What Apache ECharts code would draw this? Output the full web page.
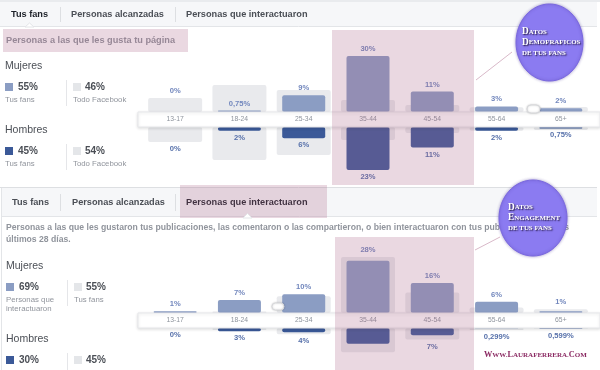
<!DOCTYPE html>
<html><head><meta charset="utf-8">
<script src="https://cdn.jsdelivr.net/npm/echarts@6/dist/echarts.min.js"></script>
<style>html,body{margin:0;padding:0;background:#fff}#c{width:600px;height:370px}</style>
</head><body><div id="c"></div>
<script>
// ---- data ----
const categories = ['13-17', '18-24', '25-34', '35-44', '45-54', '55-64', '65+'];
// Panel 1: "Tus fans" (fans) vs "Todo Facebook" (grey boxes, estimated)
const fansWomen = [0, 0.75, 9, 30, 11, 3, 2];
const fansMen = [0, 2, 6, 23, 11, 2, 0.75];
const facebookWomen = [7.5, 14.4, 11.8, 6.4, 3.7, 2.6, 2.7];
const facebookMen = [8, 17.6, 15, 7, 3.2, 2, 1.6];
// Panel 2: "Personas que interactuaron" vs "Tus fans" (grey boxes)
const engagedWomen = [1, 7, 10, 28, 16, 6, 1];
const engagedMen = [0, 3, 4, 15, 7, 0.299, 0.599];
// Summary figures
const summaryTopWomen = ['55%', '46%'];
const summaryTopMen = ['45%', '54%'];
const summaryBottomWomen = ['69%', '55%'];
const summaryBottomMen = ['30%', '45%'];

// ---- chart ----
const FONT = '"Liberation Sans", Arial, sans-serif';
const SERIF = '"Liberation Serif", "Times New Roman", serif';
const PX = 1.87, YMAX = 40, GH = PX * YMAX, CANVAS_H = 370;
const womenColor = '#8b9dc3', menColor = '#3b5998', greyBox = '#e9eaed';
const womenLbl = '#7287bd', menLbl = '#5670aa';
const fmt = v => String(v).replace('.', ',') + '%';

const panels = [
  { fg: [fansWomen, fansMen], bg: [facebookWomen, facebookMen], base: [112, 127], rule: 'zero' },
  { fg: [engagedWomen, engagedMen], bg: [fansWomen, fansMen], base: [313, 328], rule: 'max' }
];

const grid = [], xAxis = [], yAxis = [], series = [];
panels.forEach((p, pi) => {
  [0, 1].forEach(g => {
    const k = pi * 2 + g;
    grid.push({ left: 143, right: 7, top: g === 0 ? p.base[0] - GH : p.base[1], height: GH });
    const showCats = g === 0;
    xAxis.push({
      type: 'category', data: categories, gridIndex: k, position: 'bottom', z: 5,
      show: showCats, axisLine: { show: false }, axisTick: { show: false }, splitLine: { show: false },
      axisLabel: { show: showCats, margin: 3.5, fontSize: 6.8, color: '#8d939c', fontFamily: FONT }
    });
    xAxis.push({ type: 'category', data: categories, gridIndex: k, show: false });
    yAxis.push({ type: 'value', gridIndex: k, min: 0, max: YMAX, inverse: g === 1, show: false, splitLine: { show: false } });
    const fg = p.fg[g], bg = p.bg[g];
    const attach = i => p.rule === 'zero' ? fg[i] === 0 : bg[i] > fg[i];
    // a label anchored beyond the bottom of the picture is not visible
    const visible = v => g === 0 || p.base[1] + v * PX + 12 < CANVAS_H;
    const lblBase = {
      position: g === 0 ? 'top' : 'bottom', distance: 3, fontSize: 7.6, fontWeight: 'bold',
      fontFamily: FONT, color: g === 0 ? womenLbl : menLbl
    };
    series.push({
      type: 'bar', xAxisIndex: 2 * k + 1, yAxisIndex: k, barWidth: 54, silent: true, z: 1,
      itemStyle: { color: greyBox, borderRadius: 2 },
      data: bg.map((v, i) => ({ value: v, label: Object.assign({}, lblBase, { show: attach(i) && visible(v), formatter: fmt(fg[i]) }) }))
    });
    series.push({
      type: 'bar', xAxisIndex: 2 * k, yAxisIndex: k, barWidth: 43, silent: true, z: 2,
      itemStyle: { color: g === 0 ? womenColor : menColor, borderRadius: 2 },
      data: fg.map((v, i) => ({ value: v, label: Object.assign({}, lblBase, { show: !attach(i) && visible(v), formatter: fmt(v) }) }))
    });
  });
});

// ---- decorations / text ----
const T = (text, x, y, font, fill, z) => ({
  type: 'text', x, y, z: z || 10, silent: true,
  style: { text, font, fill, align: 'left', verticalAlign: 'middle', textAlign: 'left', textVerticalAlign: 'middle' }
});
const R = (x, y, w, h, fill, z, shapeExtra, styleExtra) => ({ type: 'rect', z: z || 1, silent: true,
  shape: Object.assign({ x, y, width: w, height: h }, shapeExtra || {}), style: Object.assign({ fill }, styleExtra || {}) });
const L = (x1, y1, x2, y2, stroke, z) => ({ type: 'line', z: z || 2, silent: true, shape: { x1, y1, x2, y2 }, style: { stroke, lineWidth: 1 } });
const PINK = 'rgba(170,100,135,0.25)';
const tabF = 'bold 9.2px ' + FONT;
const bigF = '10.5px ' + FONT, pctF = 'bold 10px ' + FONT, smallF = '7.8px ' + FONT;
const dark = '#4b4f56', grey = '#90949c';

function summary(x0, y0, title, color, pcts, leftLines, rightLine) {
  const out = [T(title, x0, y0, bigF, dark),
    R(x0, y0 + 17, 8, 8, color, 2),
    T(pcts[0], x0 + 13, y0 + 21, pctF, dark),
    L(x0 + 61.5, y0 + 14, x0 + 61.5, y0 + 40, '#e5e6e9'),
    R(x0 + 68, y0 + 17, 8, 8, '#e4e6e9', 2),
    T(pcts[1], x0 + 80, y0 + 21, pctF, dark)];
  leftLines.forEach((t, i) => out.push(T(t, x0, y0 + 34 + i * 8.5, smallF, grey)));
  if (rightLine) out.push(T(rightLine, x0 + 68, y0 + 34, smallF, grey));
  return out;
}

const band = (y) => R(138, y, 462, 15, '#fff', 3, null, { stroke: '#e6e7ea', lineWidth: 1, shadowBlur: 3, shadowColor: 'rgba(0,0,0,0.12)', shadowOffsetY: 1 });
const pill = (x, y, w, h) => R(x, y, w, h, '#fff', 4, { r: h / 2 }, { stroke: '#d8d9dc', shadowBlur: 2, shadowColor: 'rgba(0,0,0,0.2)' });
const circle = (cx, cy, rx, ry) => ({ type: 'ellipse', z: 30, silent: true, shape: { cx, cy, rx, ry },
  style: { fill: '#8b7bf1', stroke: '#7a68e0', lineWidth: 1, shadowBlur: 3, shadowColor: 'rgba(70,50,150,0.45)' } });

const elements = [
  // top tab bar
  R(0, 0, 600, 2, '#e9ebee', 1),
  R(0, 2, 597, 24, '#f6f7f9', 1),
  L(0, 26.5, 597, 26.5, '#e3e5e8'),
  { type: 'polygon', z: 3, silent: true, shape: { points: [[25, 27], [29.5, 23], [34, 27]] }, style: { fill: '#fff', stroke: '#e3e5e8' } },
  L(60.5, 7, 60.5, 22, '#dddfe2'), L(175.5, 7, 175.5, 22, '#dddfe2'),
  T('Tus fans', 11, 14, tabF, '#1d2129'),
  T('Personas alcanzadas', 71, 14, tabF, dark),
  T('Personas que interactuaron', 186, 14, tabF, dark),
  T('Personas a las que les gusta tu página', 6, 40, tabF, grey),
  R(3, 29, 185, 23, PINK, 20),
  // bottom panel frame and tabs
  L(0, 187.5, 597, 187.5, '#dddfe2'),
  L(1.5, 188, 1.5, 370, '#e3e5e8'),
  R(2, 188, 595, 28, '#f6f7f9', 1),
  L(2, 216.5, 597, 216.5, '#e3e5e8'),
  L(60.5, 194, 60.5, 211, '#dddfe2'), L(175.5, 194, 175.5, 211, '#dddfe2'),
  T('Tus fans', 12, 202, tabF, dark),
  T('Personas alcanzadas', 72, 202, tabF, dark),
  T('Personas que interactuaron', 186, 202, tabF, '#1d2129'),
  R(180, 185, 147, 33, PINK, 20),
  { type: 'polygon', z: 21, silent: true, shape: { points: [[243, 218], [247.5, 213.5], [252, 218]] }, style: { fill: '#fff', stroke: '#e3e5e8' } },
  T('Personas a las que les gustaron tus publicaciones, las comentaron o las compartieron, o bien interactuaron con tus publicaciones en los', 6, 228, 'bold 8.65px ' + FONT, grey),
  T('últimos 28 días.', 6, 240, 'bold 8.65px ' + FONT, grey),
  // category bands and sliders
  band(112), band(313),
  pill(527, 105, 13, 8), pill(272, 303, 12, 7),
  // pink highlight columns
  R(332, 30, 142, 155, PINK, 20),
  R(335, 237, 139, 133, PINK, 20),
  // connectors
  L(476, 80, 512, 52, '#d9b9c9', 25),
  L(475, 250, 500, 237, '#d9b9c9', 25),
  // circles
  circle(549.5, 42.5, 33.5, 38.5),
  circle(533, 218, 34, 38)
].concat(
  summary(5, 66, 'Mujeres', womenColor, summaryTopWomen, ['Tus fans'], 'Todo Facebook'),
  summary(5, 130, 'Hombres', menColor, summaryTopMen, ['Tus fans'], 'Todo Facebook'),
  summary(6, 266, 'Mujeres', womenColor, summaryBottomWomen, ['Personas que', 'interactuaron'], 'Tus fans'),
  summary(6, 339, 'Hombres', menColor, summaryBottomMen, [], '')
);

const capStyle = (size) => ({ fill: '#fff', fontSize: size, fontWeight: 'bold', fontFamily: SERIF, lineHeight: 10.5,
  textShadowColor: 'rgba(20,10,40,0.95)', textShadowOffsetX: 1, textShadowOffsetY: 1, textShadowBlur: 1.5 });
const circleText = (text, x, y) => ({
  type: 'text', x, y, z: 31, silent: true,
  style: { text, align: 'left', verticalAlign: 'middle', textAlign: 'left', textVerticalAlign: 'middle', rich: { b: capStyle(9.3), s: capStyle(6.9) } }
});
elements.push(circleText('{b|D}{s|ATOS}\n{b|D}{s|EMOFRAFICOS}\n{s|DE TUS FANS}', 522, 42.5));
elements.push(circleText('{b|D}{s|ATOS}\n{b|E}{s|NGAGEMENT}\n{s|DE TUS FANS}', 508, 218));
elements.push({ type: 'text', x: 484, y: 355, z: 31, silent: true,
  style: { text: '{b|W}{s|WW.}{b|L}{s|AURAFERRERA.}{b|C}{s|OM}', align: 'left', verticalAlign: 'middle', textAlign: 'left', textVerticalAlign: 'middle',
    rich: { b: { fill: '#8b2a63', fontSize: 8.3, fontWeight: 'bold', fontFamily: SERIF }, s: { fill: '#8b2a63', fontSize: 7, fontWeight: 'bold', fontFamily: SERIF } } } });

const chart = echarts.init(document.getElementById('c'), null, { renderer: 'canvas' });
chart.setOption({
  animation: false,
  backgroundColor: '#fff',
  grid, xAxis, yAxis, series,
  graphic: { elements }
});
</script>
</body></html>
